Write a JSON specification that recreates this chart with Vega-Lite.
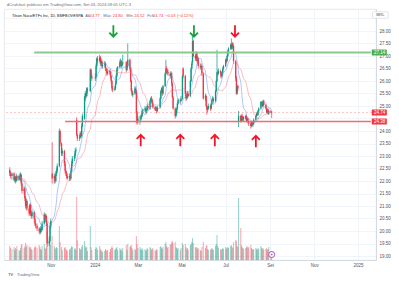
{
"$schema": "https://vega.github.io/schema/vega-lite/v6.json",
"width": 372, "height": 251,
"autosize": {"type": "none"},
"padding": {"left": 4, "top": 9, "right": 23, "bottom": 22},
"background": "#ffffff",
"config": {"font": "Liberation Sans", "view": {"stroke": "#e0e3eb", "strokeWidth": 0.8}, "axis": {"labelOverlap": false, "labelFlush": false, "labelBound": false}},
"data": {"values": [
{"d":"2023-09-05","o":22.45,"h":22.55,"l":22.2,"c":22.3,"v":14},
{"d":"2023-09-06","o":22.3,"h":22.4,"l":22.1,"c":22.2,"v":12},
{"d":"2023-09-08","o":22.2,"h":22.35,"l":22.05,"c":22.3,"v":11},
{"d":"2023-09-11","o":22.3,"h":22.35,"l":22.0,"c":22.05,"v":13},
{"d":"2023-09-12","o":22.05,"h":22.2,"l":21.95,"c":22.15,"v":10},
{"d":"2023-09-13","o":22.15,"h":22.2,"l":21.9,"c":22.0,"v":12},
{"d":"2023-09-14","o":22.0,"h":22.3,"l":21.95,"c":22.2,"v":11},
{"d":"2023-09-15","o":22.2,"h":22.25,"l":22.0,"c":22.05,"v":14},
{"d":"2023-09-18","o":22.05,"h":22.25,"l":22.0,"c":22.2,"v":10},
{"d":"2023-09-19","o":22.2,"h":22.3,"l":22.05,"c":22.1,"v":9},
{"d":"2023-09-20","o":22.1,"h":22.35,"l":22.0,"c":22.25,"v":12},
{"d":"2023-09-21","o":22.25,"h":22.3,"l":21.8,"c":21.9,"v":15},
{"d":"2023-09-22","o":21.9,"h":22.0,"l":21.5,"c":21.6,"v":16},
{"d":"2023-09-25","o":21.6,"h":21.8,"l":21.45,"c":21.7,"v":12},
{"d":"2023-09-26","o":21.7,"h":21.75,"l":21.2,"c":21.3,"v":14},
{"d":"2023-09-27","o":21.3,"h":21.4,"l":20.9,"c":21.0,"v":17},
{"d":"2023-09-28","o":21.0,"h":21.3,"l":20.85,"c":21.2,"v":13},
{"d":"2023-09-29","o":21.2,"h":21.25,"l":20.8,"c":20.9,"v":15},
{"d":"2023-10-02","o":20.9,"h":21.0,"l":20.6,"c":20.7,"v":14},
{"d":"2023-10-03","o":20.7,"h":21.1,"l":20.65,"c":21.05,"v":12},
{"d":"2023-10-04","o":21.05,"h":21.1,"l":20.6,"c":20.7,"v":13},
{"d":"2023-10-05","o":20.7,"h":20.8,"l":20.5,"c":20.6,"v":11},
{"d":"2023-10-06","o":20.6,"h":20.85,"l":20.5,"c":20.75,"v":10},
{"d":"2023-10-09","o":20.75,"h":20.8,"l":20.4,"c":20.5,"v":12},
{"d":"2023-10-10","o":20.5,"h":20.6,"l":20.2,"c":20.3,"v":14},
{"d":"2023-10-11","o":20.3,"h":20.4,"l":20.1,"c":20.2,"v":13},
{"d":"2023-10-13","o":20.2,"h":20.3,"l":20.0,"c":20.1,"v":12},
{"d":"2023-10-16","o":20.1,"h":20.15,"l":19.9,"c":20.0,"v":15},
{"d":"2023-10-17","o":20.0,"h":20.1,"l":19.85,"c":19.95,"v":13},
{"d":"2023-10-18","o":19.95,"h":20.2,"l":19.9,"c":20.1,"v":11},
{"d":"2023-10-19","o":20.1,"h":20.15,"l":19.95,"c":20.05,"v":10},
{"d":"2023-10-20","o":20.05,"h":20.4,"l":20.0,"c":20.3,"v":14},
{"d":"2023-10-23","o":20.3,"h":20.75,"l":20.25,"c":20.65,"v":16},
{"d":"2023-10-24","o":20.65,"h":20.7,"l":20.4,"c":20.5,"v":12},
{"d":"2023-10-25","o":20.5,"h":20.7,"l":20.35,"c":20.6,"v":11},
{"d":"2023-10-26","o":20.6,"h":20.65,"l":20.2,"c":20.3,"v":13},
{"d":"2023-10-27","o":20.3,"h":20.35,"l":19.37,"c":19.5,"v":28},
{"d":"2023-10-30","o":19.5,"h":19.8,"l":19.4,"c":19.6,"v":22},
{"d":"2023-10-31","o":19.6,"h":20.3,"l":19.55,"c":20.2,"v":18},
{"d":"2023-11-01","o":20.2,"h":20.5,"l":20.1,"c":20.4,"v":15},
{"d":"2023-11-03","o":22.3,"h":23.55,"l":21.9,"c":22.1,"v":24},
{"d":"2023-11-06","o":22.1,"h":22.3,"l":21.9,"c":22.2,"v":14},
{"d":"2023-11-07","o":22.2,"h":22.25,"l":21.9,"c":22.0,"v":12},
{"d":"2023-11-08","o":22.0,"h":22.4,"l":21.95,"c":22.3,"v":11},
{"d":"2023-11-09","o":22.3,"h":22.5,"l":22.2,"c":22.4,"v":13},
{"d":"2023-11-10","o":22.4,"h":22.7,"l":22.3,"c":22.6,"v":12},
{"d":"2023-11-13","o":22.6,"h":24.1,"l":22.55,"c":24.0,"v":34},
{"d":"2023-11-14","o":24.0,"h":24.05,"l":23.4,"c":23.5,"v":18},
{"d":"2023-11-16","o":23.5,"h":23.55,"l":23.0,"c":23.1,"v":13},
{"d":"2023-11-17","o":23.1,"h":23.3,"l":23.0,"c":23.2,"v":10},
{"d":"2023-11-20","o":23.2,"h":23.25,"l":22.6,"c":22.7,"v":12},
{"d":"2023-11-21","o":22.7,"h":22.8,"l":22.3,"c":22.4,"v":13},
{"d":"2023-11-22","o":22.4,"h":22.5,"l":22.2,"c":22.3,"v":11},
{"d":"2023-11-23","o":22.3,"h":22.4,"l":22.1,"c":22.2,"v":10},
{"d":"2023-11-24","o":22.2,"h":22.3,"l":22.05,"c":22.1,"v":9},
{"d":"2023-11-27","o":22.1,"h":22.3,"l":22.0,"c":22.2,"v":11},
{"d":"2023-11-28","o":22.2,"h":22.25,"l":22.0,"c":22.1,"v":10},
{"d":"2023-11-29","o":22.1,"h":22.5,"l":22.05,"c":22.4,"v":12},
{"d":"2023-11-30","o":22.4,"h":22.8,"l":22.35,"c":22.7,"v":14},
{"d":"2023-12-01","o":22.7,"h":23.0,"l":22.6,"c":22.9,"v":13},
{"d":"2023-12-04","o":22.9,"h":23.1,"l":22.8,"c":23.0,"v":11},
{"d":"2023-12-05","o":23.0,"h":23.3,"l":22.9,"c":23.2,"v":12},
{"d":"2023-12-06","o":23.2,"h":23.35,"l":23.1,"c":23.25,"v":10},
{"d":"2023-12-07","o":24.45,"h":24.55,"l":23.8,"c":23.85,"v":63},
{"d":"2023-12-08","o":23.85,"h":23.9,"l":23.6,"c":23.7,"v":20},
{"d":"2023-12-11","o":23.7,"h":23.85,"l":23.6,"c":23.75,"v":12},
{"d":"2023-12-12","o":23.75,"h":24.0,"l":23.7,"c":23.9,"v":11},
{"d":"2023-12-13","o":23.9,"h":23.95,"l":23.7,"c":23.8,"v":10},
{"d":"2023-12-14","o":23.8,"h":24.3,"l":23.75,"c":24.2,"v":13},
{"d":"2023-12-15","o":24.2,"h":24.7,"l":24.15,"c":24.6,"v":15},
{"d":"2023-12-18","o":24.5,"h":25.4,"l":24.45,"c":25.35,"v":19},
{"d":"2023-12-19","o":25.35,"h":25.6,"l":25.2,"c":25.5,"v":14},
{"d":"2023-12-20","o":25.5,"h":25.55,"l":25.3,"c":25.4,"v":12},
{"d":"2023-12-21","o":25.4,"h":25.75,"l":25.35,"c":25.7,"v":13},
{"d":"2023-12-22","o":25.7,"h":25.75,"l":25.5,"c":25.6,"v":9},
{"d":"2023-12-26","o":25.6,"h":26.5,"l":25.55,"c":26.45,"v":34},
{"d":"2023-12-27","o":26.45,"h":26.5,"l":26.1,"c":26.2,"v":13},
{"d":"2023-12-28","o":26.2,"h":26.3,"l":26.0,"c":26.1,"v":10},
{"d":"2024-01-02","o":26.1,"h":26.3,"l":26.0,"c":26.15,"v":11},
{"d":"2024-01-03","o":26.15,"h":26.7,"l":26.1,"c":26.6,"v":13},
{"d":"2024-01-04","o":26.6,"h":26.95,"l":26.5,"c":26.9,"v":12},
{"d":"2024-01-05","o":26.9,"h":27.0,"l":26.7,"c":26.8,"v":10},
{"d":"2024-01-08","o":26.8,"h":27.05,"l":26.75,"c":26.95,"v":14},
{"d":"2024-01-09","o":26.95,"h":27.0,"l":26.6,"c":26.7,"v":11},
{"d":"2024-01-10","o":26.7,"h":26.9,"l":26.6,"c":26.8,"v":9},
{"d":"2024-01-11","o":26.8,"h":26.85,"l":26.5,"c":26.6,"v":10},
{"d":"2024-01-12","o":26.6,"h":26.75,"l":26.5,"c":26.65,"v":8},
{"d":"2024-01-15","o":26.65,"h":26.8,"l":26.55,"c":26.7,"v":9},
{"d":"2024-01-16","o":26.7,"h":26.75,"l":26.4,"c":26.5,"v":11},
{"d":"2024-01-17","o":26.5,"h":26.55,"l":26.3,"c":26.4,"v":10},
{"d":"2024-01-18","o":26.4,"h":26.45,"l":26.2,"c":26.3,"v":9},
{"d":"2024-01-19","o":26.3,"h":26.5,"l":26.25,"c":26.4,"v":10},
{"d":"2024-01-22","o":26.4,"h":26.45,"l":26.25,"c":26.35,"v":8},
{"d":"2024-01-23","o":26.35,"h":26.4,"l":26.1,"c":26.2,"v":11},
{"d":"2024-01-24","o":26.2,"h":26.25,"l":25.9,"c":26.0,"v":12},
{"d":"2024-01-25","o":26.0,"h":26.05,"l":25.6,"c":25.7,"v":14},
{"d":"2024-01-26","o":25.7,"h":25.8,"l":25.55,"c":25.65,"v":12},
{"d":"2024-01-29","o":25.65,"h":25.8,"l":25.6,"c":25.7,"v":10},
{"d":"2024-01-30","o":25.7,"h":26.0,"l":25.65,"c":25.9,"v":11},
{"d":"2024-01-31","o":25.9,"h":26.3,"l":25.85,"c":26.2,"v":12},
{"d":"2024-02-01","o":26.2,"h":26.55,"l":26.15,"c":26.5,"v":13},
{"d":"2024-02-02","o":26.5,"h":26.6,"l":26.4,"c":26.55,"v":10},
{"d":"2024-02-05","o":26.55,"h":26.85,"l":26.5,"c":26.75,"v":12},
{"d":"2024-02-06","o":26.75,"h":26.9,"l":26.6,"c":26.8,"v":10},
{"d":"2024-02-07","o":26.8,"h":26.85,"l":26.5,"c":26.6,"v":11},
{"d":"2024-02-08","o":26.6,"h":26.75,"l":26.55,"c":26.7,"v":9},
{"d":"2024-02-09","o":26.7,"h":27.05,"l":26.65,"c":26.75,"v":12},
{"d":"2024-02-14","o":26.75,"h":26.8,"l":26.35,"c":26.45,"v":15},
{"d":"2024-02-15","o":26.45,"h":26.65,"l":26.4,"c":26.6,"v":10},
{"d":"2024-02-16","o":26.6,"h":27.5,"l":26.55,"c":26.85,"v":16},
{"d":"2024-02-19","o":26.85,"h":26.9,"l":26.4,"c":26.5,"v":13},
{"d":"2024-02-20","o":26.5,"h":26.55,"l":25.95,"c":26.0,"v":14},
{"d":"2024-02-21","o":26.0,"h":26.05,"l":25.55,"c":25.6,"v":15},
{"d":"2024-02-22","o":25.6,"h":25.7,"l":25.4,"c":25.45,"v":12},
{"d":"2024-02-23","o":25.45,"h":25.6,"l":25.35,"c":25.5,"v":10},
{"d":"2024-02-26","o":25.5,"h":25.8,"l":25.45,"c":25.7,"v":11},
{"d":"2024-02-27","o":25.7,"h":25.75,"l":25.5,"c":25.6,"v":10},
{"d":"2024-02-28","o":25.6,"h":25.65,"l":24.3,"c":24.75,"v":24},
{"d":"2024-02-29","o":24.75,"h":24.8,"l":24.25,"c":24.4,"v":16},
{"d":"2024-03-01","o":24.4,"h":24.6,"l":24.3,"c":24.5,"v":12},
{"d":"2024-03-04","o":24.5,"h":24.6,"l":24.25,"c":24.5,"v":13},
{"d":"2024-03-05","o":24.5,"h":24.65,"l":24.4,"c":24.55,"v":11},
{"d":"2024-03-06","o":24.55,"h":24.7,"l":24.45,"c":24.6,"v":10},
{"d":"2024-03-07","o":24.6,"h":24.85,"l":24.55,"c":24.8,"v":12},
{"d":"2024-03-08","o":24.8,"h":24.9,"l":24.7,"c":24.85,"v":10},
{"d":"2024-03-11","o":24.85,"h":25.0,"l":24.75,"c":24.9,"v":11},
{"d":"2024-03-12","o":24.9,"h":24.95,"l":24.7,"c":24.8,"v":9},
{"d":"2024-03-13","o":24.8,"h":24.9,"l":24.7,"c":24.85,"v":10},
{"d":"2024-03-14","o":24.85,"h":25.1,"l":24.8,"c":25.0,"v":12},
{"d":"2024-03-15","o":25.0,"h":25.05,"l":24.85,"c":24.9,"v":11},
{"d":"2024-03-18","o":24.9,"h":25.25,"l":24.85,"c":25.2,"v":13},
{"d":"2024-03-19","o":25.2,"h":25.35,"l":25.1,"c":25.3,"v":12},
{"d":"2024-03-20","o":25.3,"h":25.4,"l":25.15,"c":25.25,"v":10},
{"d":"2024-03-21","o":25.25,"h":25.3,"l":25.0,"c":25.1,"v":11},
{"d":"2024-03-22","o":25.1,"h":25.15,"l":24.9,"c":24.95,"v":12},
{"d":"2024-03-25","o":24.95,"h":25.0,"l":24.8,"c":24.85,"v":10},
{"d":"2024-03-26","o":24.85,"h":25.0,"l":24.8,"c":24.9,"v":9},
{"d":"2024-03-27","o":24.9,"h":24.95,"l":24.7,"c":24.8,"v":11},
{"d":"2024-03-28","o":24.8,"h":25.0,"l":24.75,"c":24.95,"v":10},
{"d":"2024-04-01","o":24.95,"h":25.35,"l":24.9,"c":25.3,"v":13},
{"d":"2024-04-02","o":25.3,"h":25.65,"l":25.25,"c":25.6,"v":14},
{"d":"2024-04-03","o":25.6,"h":25.75,"l":25.5,"c":25.7,"v":12},
{"d":"2024-04-04","o":25.7,"h":25.75,"l":25.4,"c":25.5,"v":11},
{"d":"2024-04-05","o":25.5,"h":25.85,"l":25.45,"c":25.8,"v":13},
{"d":"2024-04-08","o":25.8,"h":26.35,"l":25.75,"c":26.3,"v":16},
{"d":"2024-04-09","o":26.3,"h":26.85,"l":26.25,"c":26.5,"v":18},
{"d":"2024-04-10","o":26.5,"h":26.6,"l":26.3,"c":26.4,"v":14},
{"d":"2024-04-11","o":26.4,"h":26.5,"l":26.25,"c":26.35,"v":12},
{"d":"2024-04-12","o":26.35,"h":26.45,"l":26.2,"c":26.3,"v":13},
{"d":"2024-04-15","o":26.3,"h":26.35,"l":26.1,"c":26.2,"v":16},
{"d":"2024-04-16","o":26.2,"h":26.4,"l":26.15,"c":26.3,"v":15},
{"d":"2024-04-17","o":26.3,"h":26.35,"l":25.8,"c":25.9,"v":18},
{"d":"2024-04-18","o":25.9,"h":25.95,"l":25.3,"c":25.35,"v":19},
{"d":"2024-04-19","o":25.35,"h":25.4,"l":24.85,"c":24.9,"v":17},
{"d":"2024-04-22","o":24.9,"h":24.95,"l":24.5,"c":24.6,"v":18},
{"d":"2024-04-23","o":24.6,"h":24.8,"l":24.55,"c":24.7,"v":13},
{"d":"2024-04-24","o":24.7,"h":24.95,"l":24.65,"c":24.9,"v":12},
{"d":"2024-04-25","o":24.9,"h":25.15,"l":24.85,"c":25.1,"v":11},
{"d":"2024-04-26","o":25.1,"h":25.3,"l":25.05,"c":25.25,"v":12},
{"d":"2024-04-29","o":25.25,"h":25.3,"l":25.1,"c":25.2,"v":10},
{"d":"2024-04-30","o":25.2,"h":25.4,"l":25.15,"c":25.3,"v":12},
{"d":"2024-05-02","o":25.3,"h":26.25,"l":25.25,"c":26.2,"v":17},
{"d":"2024-05-03","o":26.5,"h":26.55,"l":26.1,"c":26.2,"v":15},
{"d":"2024-05-06","o":26.2,"h":26.25,"l":25.4,"c":25.5,"v":16},
{"d":"2024-05-07","o":25.5,"h":25.55,"l":25.2,"c":25.3,"v":13},
{"d":"2024-05-08","o":25.3,"h":25.45,"l":25.25,"c":25.35,"v":11},
{"d":"2024-05-09","o":25.35,"h":25.6,"l":25.3,"c":25.5,"v":12},
{"d":"2024-05-10","o":25.5,"h":25.55,"l":25.35,"c":25.4,"v":10},
{"d":"2024-05-13","o":25.4,"h":26.05,"l":25.35,"c":26.0,"v":15},
{"d":"2024-05-14","o":26.0,"h":26.55,"l":25.95,"c":26.5,"v":16},
{"d":"2024-05-15","o":26.5,"h":26.8,"l":26.45,"c":26.7,"v":18},
{"d":"2024-05-16","o":26.75,"h":27.85,"l":26.65,"c":27.6,"v":22},
{"d":"2024-05-17","o":27.6,"h":27.65,"l":26.95,"c":27.0,"v":17},
{"d":"2024-05-20","o":27.0,"h":27.05,"l":26.8,"c":26.9,"v":13},
{"d":"2024-05-21","o":26.9,"h":27.2,"l":26.85,"c":27.1,"v":12},
{"d":"2024-05-22","o":27.1,"h":27.15,"l":26.75,"c":26.8,"v":13},
{"d":"2024-05-23","o":26.8,"h":27.0,"l":26.7,"c":26.9,"v":11},
{"d":"2024-05-24","o":26.9,"h":26.95,"l":26.5,"c":26.6,"v":12},
{"d":"2024-05-27","o":26.6,"h":26.7,"l":26.45,"c":26.55,"v":10},
{"d":"2024-05-28","o":26.55,"h":26.7,"l":26.5,"c":26.6,"v":9},
{"d":"2024-05-29","o":26.6,"h":26.65,"l":26.2,"c":26.3,"v":13},
{"d":"2024-05-31","o":26.3,"h":26.35,"l":25.25,"c":25.3,"v":18},
{"d":"2024-06-03","o":25.3,"h":25.5,"l":25.2,"c":25.4,"v":12},
{"d":"2024-06-04","o":25.4,"h":25.45,"l":24.95,"c":25.0,"v":14},
{"d":"2024-06-05","o":25.0,"h":25.05,"l":24.65,"c":24.85,"v":15},
{"d":"2024-06-06","o":24.85,"h":25.0,"l":24.75,"c":24.9,"v":11},
{"d":"2024-06-07","o":24.9,"h":25.1,"l":24.85,"c":25.0,"v":10},
{"d":"2024-06-10","o":25.0,"h":25.05,"l":24.8,"c":24.9,"v":10},
{"d":"2024-06-11","o":24.9,"h":25.15,"l":24.85,"c":25.1,"v":11},
{"d":"2024-06-12","o":25.1,"h":25.3,"l":25.05,"c":25.25,"v":12},
{"d":"2024-06-13","o":25.25,"h":25.4,"l":25.2,"c":25.3,"v":11},
{"d":"2024-06-14","o":25.3,"h":25.35,"l":25.1,"c":25.2,"v":10},
{"d":"2024-06-17","o":25.2,"h":25.65,"l":25.15,"c":25.6,"v":14},
{"d":"2024-06-18","o":25.6,"h":26.05,"l":25.55,"c":26.0,"v":16},
{"d":"2024-06-19","o":26.0,"h":27.25,"l":25.95,"c":26.35,"v":25},
{"d":"2024-06-20","o":26.35,"h":26.45,"l":26.2,"c":26.3,"v":14},
{"d":"2024-06-21","o":26.3,"h":26.5,"l":26.25,"c":26.4,"v":12},
{"d":"2024-06-24","o":26.4,"h":26.45,"l":26.15,"c":26.3,"v":11},
{"d":"2024-06-25","o":26.3,"h":26.35,"l":26.1,"c":26.2,"v":10},
{"d":"2024-06-26","o":26.2,"h":26.4,"l":26.15,"c":26.35,"v":11},
{"d":"2024-06-27","o":26.35,"h":26.55,"l":26.3,"c":26.5,"v":12},
{"d":"2024-06-28","o":26.5,"h":26.65,"l":26.45,"c":26.6,"v":11},
{"d":"2024-07-01","o":26.6,"h":26.9,"l":26.55,"c":26.85,"v":13},
{"d":"2024-07-02","o":26.85,"h":26.9,"l":26.7,"c":26.8,"v":11},
{"d":"2024-07-03","o":26.8,"h":27.05,"l":26.75,"c":27.0,"v":12},
{"d":"2024-07-04","o":27.0,"h":27.25,"l":26.95,"c":27.2,"v":13},
{"d":"2024-07-05","o":27.2,"h":27.35,"l":27.1,"c":27.3,"v":12},
{"d":"2024-07-08","o":27.3,"h":27.5,"l":27.25,"c":27.45,"v":14},
{"d":"2024-07-09","o":27.45,"h":27.7,"l":27.25,"c":27.3,"v":15},
{"d":"2024-07-10","o":27.3,"h":27.55,"l":27.25,"c":27.5,"v":13},
{"d":"2024-07-11","o":27.5,"h":27.55,"l":27.3,"c":27.4,"v":12},
{"d":"2024-07-12","o":27.4,"h":27.45,"l":26.7,"c":26.8,"v":18},
{"d":"2024-07-15","o":26.8,"h":26.85,"l":26.0,"c":26.1,"v":20},
{"d":"2024-07-16","o":26.1,"h":26.2,"l":25.45,"c":25.5,"v":19},
{"d":"2024-07-17","o":25.5,"h":25.85,"l":25.45,"c":25.8,"v":14},
{"d":"2024-07-18","o":25.8,"h":25.85,"l":25.6,"c":25.7,"v":13},
{"d":"2024-07-19","o":24.4,"h":24.8,"l":24.15,"c":24.6,"v":62},
{"d":"2024-07-22","o":24.6,"h":24.65,"l":24.35,"c":24.4,"v":32},
{"d":"2024-07-23","o":24.4,"h":24.65,"l":24.35,"c":24.6,"v":15},
{"d":"2024-07-24","o":24.6,"h":24.7,"l":24.4,"c":24.45,"v":13},
{"d":"2024-07-25","o":24.45,"h":24.6,"l":24.4,"c":24.55,"v":12},
{"d":"2024-07-26","o":24.55,"h":24.6,"l":24.4,"c":24.5,"v":11},
{"d":"2024-07-29","o":24.5,"h":24.65,"l":24.45,"c":24.6,"v":12},
{"d":"2024-07-30","o":24.6,"h":24.65,"l":24.35,"c":24.4,"v":13},
{"d":"2024-07-31","o":24.4,"h":24.55,"l":24.35,"c":24.5,"v":14},
{"d":"2024-08-01","o":24.5,"h":24.55,"l":24.3,"c":24.35,"v":12},
{"d":"2024-08-02","o":24.35,"h":24.4,"l":24.2,"c":24.3,"v":13},
{"d":"2024-08-05","o":24.3,"h":24.35,"l":24.1,"c":24.2,"v":15},
{"d":"2024-08-06","o":24.2,"h":24.4,"l":24.15,"c":24.35,"v":12},
{"d":"2024-08-07","o":24.35,"h":24.4,"l":24.2,"c":24.25,"v":11},
{"d":"2024-08-08","o":24.25,"h":24.35,"l":24.15,"c":24.3,"v":10},
{"d":"2024-08-09","o":24.3,"h":24.5,"l":24.25,"c":24.45,"v":11},
{"d":"2024-08-12","o":24.45,"h":24.65,"l":24.4,"c":24.6,"v":12},
{"d":"2024-08-13","o":24.6,"h":24.75,"l":24.55,"c":24.7,"v":11},
{"d":"2024-08-14","o":24.7,"h":24.75,"l":24.6,"c":24.65,"v":10},
{"d":"2024-08-15","o":24.65,"h":24.85,"l":24.6,"c":24.8,"v":12},
{"d":"2024-08-16","o":24.8,"h":24.95,"l":24.75,"c":24.9,"v":11},
{"d":"2024-08-19","o":24.9,"h":25.2,"l":24.85,"c":25.15,"v":14},
{"d":"2024-08-20","o":25.15,"h":25.2,"l":25.0,"c":25.1,"v":12},
{"d":"2024-08-21","o":25.1,"h":25.15,"l":24.95,"c":25.0,"v":11},
{"d":"2024-08-22","o":25.0,"h":25.25,"l":24.95,"c":25.2,"v":12},
{"d":"2024-08-23","o":25.2,"h":25.25,"l":25.0,"c":25.05,"v":10},
{"d":"2024-08-26","o":25.05,"h":25.1,"l":24.85,"c":24.9,"v":11},
{"d":"2024-08-27","o":24.9,"h":24.95,"l":24.7,"c":24.75,"v":12},
{"d":"2024-08-28","o":24.75,"h":24.9,"l":24.7,"c":24.85,"v":10},
{"d":"2024-08-29","o":24.85,"h":24.9,"l":24.65,"c":24.7,"v":11},
{"d":"2024-08-30","o":24.7,"h":24.85,"l":24.65,"c":24.8,"v":13},
{"d":"2024-09-02","o":24.8,"h":24.85,"l":24.7,"c":24.77,"v":9},
{"d":"2024-09-03","o":24.77,"h":24.8,"l":24.52,"c":24.74,"v":6}
]},
"layer": [
 {"mark": {"type": "bar", "size": 1.1, "opacity": 0.4, "clip": true},
  "encoding": {
   "x": {"field": "d", "type": "temporal", "scale": {"domain": [{"year": 2023, "month": 9, "date": 4, "utc": true}, {"year": 2025, "month": 1, "date": 19, "utc": true}]},
         "axis": {"title": null, "values": [{"year": 2023, "month": 11, "date": 1, "utc": true}, {"year": 2024, "month": 1, "date": 1, "utc": true}, {"year": 2024, "month": 3, "date": 1, "utc": true}, {"year": 2024, "month": 5, "date": 1, "utc": true}, {"year": 2024, "month": 7, "date": 1, "utc": true}, {"year": 2024, "month": 9, "date": 1, "utc": true}, {"year": 2024, "month": 11, "date": 1, "utc": true}, {"year": 2025, "month": 1, "date": 1, "utc": true}], "labelExpr": "utcmonth(datum.value) == 0 ? utcyear(datum.value) + '' : ['Jan','Fev','Mar','Abr','Mai','Jun','Jul','Ago','Set','Out','Nov','Dez'][utcmonth(datum.value)]", "labelFontSize": 4.5, "labelColor": "#50535e", "labelPadding": 2, "ticks": false, "domainColor": "#d1d4dc", "domainWidth": 0.8, "grid": true, "gridColor": "#eef1f6", "gridWidth": 0.8, "labelFlush": false, "labelOverlap": false}},
   "y": {"field": "v", "type": "quantitative", "scale": {"domain": [0, 251]}, "axis": null},
   "color": {"condition": {"test": "datum.c >= datum.o", "value": "#089981"}, "value": "#f23645"}
  }},
 {"layer": [
  {"mark": {"type": "rule", "strokeWidth": 0.7, "clip": true},
   "encoding": {
    "x": {"field": "d", "type": "temporal", "scale": {"domain": [{"year": 2023, "month": 9, "date": 4, "utc": true}, {"year": 2025, "month": 1, "date": 19, "utc": true}]},
          "axis": {"title": null, "values": [{"year": 2023, "month": 11, "date": 1, "utc": true}, {"year": 2024, "month": 1, "date": 1, "utc": true}, {"year": 2024, "month": 3, "date": 1, "utc": true}, {"year": 2024, "month": 5, "date": 1, "utc": true}, {"year": 2024, "month": 7, "date": 1, "utc": true}, {"year": 2024, "month": 9, "date": 1, "utc": true}, {"year": 2024, "month": 11, "date": 1, "utc": true}, {"year": 2025, "month": 1, "date": 1, "utc": true}], "labelExpr": "utcmonth(datum.value) == 0 ? utcyear(datum.value) + '' : ['Jan','Fev','Mar','Abr','Mai','Jun','Jul','Ago','Set','Out','Nov','Dez'][utcmonth(datum.value)]", "labelFontSize": 4.5, "labelColor": "#50535e", "labelPadding": 2, "ticks": false, "domainColor": "#d1d4dc", "domainWidth": 0.8, "grid": true, "gridColor": "#eef1f6", "gridWidth": 0.8, "labelFlush": false, "labelOverlap": false}},
    "y": {"field": "l", "type": "quantitative", "scale": {"domain": [18.84, 28.88], "nice": false, "zero": false},
          "axis": {"orient": "right", "title": null, "values": [19, 19.5, 20, 20.5, 21, 21.5, 22, 22.5, 23, 23.5, 24, 24.5, 25, 25.5, 26, 26.5, 27, 27.5, 28, 28.5], "labelExpr": "(datum.value > 28.2 || datum.value == 24.5) ? '' : format(datum.value, '.2f')", "labelFontSize": 4.5, "labelColor": "#50535e", "labelAlign": "left", "labelPadding": 3, "ticks": false, "domainColor": "#d1d4dc", "domainWidth": 0.8, "grid": true, "gridColor": "#eef1f6", "gridWidth": 0.8, "labelOverlap": false, "labelFlush": false}},
    "y2": {"field": "h"},
    "color": {"condition": {"test": "datum.c >= datum.o", "value": "#089981"}, "value": "#f23645"}
   }},
  {"mark": {"type": "bar", "size": 1.3, "clip": true},
   "encoding": {
    "x": {"field": "d", "type": "temporal"},
    "y": {"field": "o", "type": "quantitative", "axis": {"orient": "right", "title": null, "values": [19, 19.5, 20, 20.5, 21, 21.5, 22, 22.5, 23, 23.5, 24, 24.5, 25, 25.5, 26, 26.5, 27, 27.5, 28, 28.5], "labelExpr": "(datum.value > 28.2 || datum.value == 24.5) ? '' : format(datum.value, '.2f')", "labelFontSize": 4.5, "labelColor": "#50535e", "labelAlign": "left", "labelPadding": 3, "ticks": false, "domainColor": "#d1d4dc", "domainWidth": 0.8, "grid": true, "gridColor": "#eef1f6", "gridWidth": 0.8, "labelOverlap": false, "labelFlush": false}},
    "y2": {"field": "c"},
    "color": {"condition": {"test": "datum.c >= datum.o", "value": "#089981"}, "value": "#f23645"}
   }},
  {"transform": [{"window": [{"op": "mean", "field": "c", "as": "ma9"}], "frame": [-8, 0], "sort": [{"field": "d"}]}],
   "mark": {"type": "line", "strokeWidth": 0.8, "color": "#5b8def", "opacity": 0.6, "clip": true},
   "encoding": {
    "x": {"field": "d", "type": "temporal"},
    "y": {"field": "ma9", "type": "quantitative", "axis": {"orient": "right", "title": null, "values": [19, 19.5, 20, 20.5, 21, 21.5, 22, 22.5, 23, 23.5, 24, 24.5, 25, 25.5, 26, 26.5, 27, 27.5, 28, 28.5], "labelExpr": "(datum.value > 28.2 || datum.value == 24.5) ? '' : format(datum.value, '.2f')", "labelFontSize": 4.5, "labelColor": "#50535e", "labelAlign": "left", "labelPadding": 3, "ticks": false, "domainColor": "#d1d4dc", "domainWidth": 0.8, "grid": true, "gridColor": "#eef1f6", "gridWidth": 0.8, "labelOverlap": false, "labelFlush": false}}
   }},
  {"transform": [{"window": [{"op": "mean", "field": "c", "as": "ma20"}], "frame": [-19, 0], "sort": [{"field": "d"}]}],
   "mark": {"type": "line", "strokeWidth": 0.8, "color": "#f06070", "opacity": 0.5, "clip": true},
   "encoding": {
    "x": {"field": "d", "type": "temporal"},
    "y": {"field": "ma20", "type": "quantitative", "axis": {"orient": "right", "title": null, "values": [19, 19.5, 20, 20.5, 21, 21.5, 22, 22.5, 23, 23.5, 24, 24.5, 25, 25.5, 26, 26.5, 27, 27.5, 28, 28.5], "labelExpr": "(datum.value > 28.2 || datum.value == 24.5) ? '' : format(datum.value, '.2f')", "labelFontSize": 4.5, "labelColor": "#50535e", "labelAlign": "left", "labelPadding": 3, "ticks": false, "domainColor": "#d1d4dc", "domainWidth": 0.8, "grid": true, "gridColor": "#eef1f6", "gridWidth": 0.8, "labelOverlap": false, "labelFlush": false}}
   }},
  {"data": {"values": [{"p": 24.74}]},
   "mark": {"type": "rule", "strokeWidth": 0.6, "strokeDash": [2, 2], "color": "#f23645", "opacity": 0.45},
   "encoding": {
    "y": {"field": "p", "type": "quantitative", "axis": {"orient": "right", "title": null, "values": [19, 19.5, 20, 20.5, 21, 21.5, 22, 22.5, 23, 23.5, 24, 24.5, 25, 25.5, 26, 26.5, 27, 27.5, 28, 28.5], "labelExpr": "(datum.value > 28.2 || datum.value == 24.5) ? '' : format(datum.value, '.2f')", "labelFontSize": 4.5, "labelColor": "#50535e", "labelAlign": "left", "labelPadding": 3, "ticks": false, "domainColor": "#d1d4dc", "domainWidth": 0.8, "grid": true, "gridColor": "#eef1f6", "gridWidth": 0.8, "labelOverlap": false, "labelFlush": false}}
   }},
  {"data": {"values": [{"d0": "2023-10-09", "d1": "2025-01-19", "p": 27.14}]},
   "mark": {"type": "rule", "strokeWidth": 2, "color": "#8cc98e"},
   "encoding": {
    "x": {"field": "d0", "type": "temporal"},
    "x2": {"field": "d1"},
    "y": {"field": "p", "type": "quantitative", "axis": {"orient": "right", "title": null, "values": [19, 19.5, 20, 20.5, 21, 21.5, 22, 22.5, 23, 23.5, 24, 24.5, 25, 25.5, 26, 26.5, 27, 27.5, 28, 28.5], "labelExpr": "(datum.value > 28.2 || datum.value == 24.5) ? '' : format(datum.value, '.2f')", "labelFontSize": 4.5, "labelColor": "#50535e", "labelAlign": "left", "labelPadding": 3, "ticks": false, "domainColor": "#d1d4dc", "domainWidth": 0.8, "grid": true, "gridColor": "#eef1f6", "gridWidth": 0.8, "labelOverlap": false, "labelFlush": false}}
   }},
  {"data": {"values": [{"d0": "2023-11-21", "d1": "2025-01-19", "p": 24.38}]},
   "mark": {"type": "rule", "strokeWidth": 1.3, "color": "#f06b72"},
   "encoding": {
    "x": {"field": "d0", "type": "temporal"},
    "x2": {"field": "d1"},
    "y": {"field": "p", "type": "quantitative", "axis": {"orient": "right", "title": null, "values": [19, 19.5, 20, 20.5, 21, 21.5, 22, 22.5, 23, 23.5, 24, 24.5, 25, 25.5, 26, 26.5, 27, 27.5, 28, 28.5], "labelExpr": "(datum.value > 28.2 || datum.value == 24.5) ? '' : format(datum.value, '.2f')", "labelFontSize": 4.5, "labelColor": "#50535e", "labelAlign": "left", "labelPadding": 3, "ticks": false, "domainColor": "#d1d4dc", "domainWidth": 0.8, "grid": true, "gridColor": "#eef1f6", "gridWidth": 0.8, "labelOverlap": false, "labelFlush": false}}
   }},
  {"data": {"values": [{"d": "2024-01-27", "p": 28.0}, {"d": "2024-05-18", "p": 28.0}]},
   "mark": {"type": "point", "shape": "M0,-1L0,1M-0.7,0.3L0,1L0.7,0.3", "filled": false, "strokeWidth": 1.8, "size": 130, "color": "#1b9e3e", "opacity": 1, "clip": false},
   "encoding": {
    "x": {"field": "d", "type": "temporal"},
    "y": {"field": "p", "type": "quantitative", "axis": {"orient": "right", "title": null, "values": [19, 19.5, 20, 20.5, 21, 21.5, 22, 22.5, 23, 23.5, 24, 24.5, 25, 25.5, 26, 26.5, 27, 27.5, 28, 28.5], "labelExpr": "(datum.value > 28.2 || datum.value == 24.5) ? '' : format(datum.value, '.2f')", "labelFontSize": 4.5, "labelColor": "#50535e", "labelAlign": "left", "labelPadding": 3, "ticks": false, "domainColor": "#d1d4dc", "domainWidth": 0.8, "grid": true, "gridColor": "#eef1f6", "gridWidth": 0.8, "labelOverlap": false, "labelFlush": false}}
   }},
  {"data": {"values": [{"d": "2024-07-14", "p": 28.0}]},
   "mark": {"type": "point", "shape": "M0,-1L0,1M-0.7,0.3L0,1L0.7,0.3", "filled": false, "strokeWidth": 1.8, "size": 130, "color": "#f2162a", "opacity": 1, "clip": false},
   "encoding": {
    "x": {"field": "d", "type": "temporal"},
    "y": {"field": "p", "type": "quantitative", "axis": {"orient": "right", "title": null, "values": [19, 19.5, 20, 20.5, 21, 21.5, 22, 22.5, 23, 23.5, 24, 24.5, 25, 25.5, 26, 26.5, 27, 27.5, 28, 28.5], "labelExpr": "(datum.value > 28.2 || datum.value == 24.5) ? '' : format(datum.value, '.2f')", "labelFontSize": 4.5, "labelColor": "#50535e", "labelAlign": "left", "labelPadding": 3, "ticks": false, "domainColor": "#d1d4dc", "domainWidth": 0.8, "grid": true, "gridColor": "#eef1f6", "gridWidth": 0.8, "labelOverlap": false, "labelFlush": false}}
   }},
  {"data": {"values": [{"d": "2024-03-05", "p": 23.62}, {"d": "2024-04-29", "p": 23.62}, {"d": "2024-06-16", "p": 23.62}, {"d": "2024-08-12", "p": 23.58}]},
   "mark": {"type": "point", "shape": "M0,1L0,-1M-0.7,-0.3L0,-1L0.7,-0.3", "filled": false, "strokeWidth": 1.8, "size": 130, "color": "#f2162a", "opacity": 1, "clip": false},
   "encoding": {
    "x": {"field": "d", "type": "temporal"},
    "y": {"field": "p", "type": "quantitative", "axis": {"orient": "right", "title": null, "values": [19, 19.5, 20, 20.5, 21, 21.5, 22, 22.5, 23, 23.5, 24, 24.5, 25, 25.5, 26, 26.5, 27, 27.5, 28, 28.5], "labelExpr": "(datum.value > 28.2 || datum.value == 24.5) ? '' : format(datum.value, '.2f')", "labelFontSize": 4.5, "labelColor": "#50535e", "labelAlign": "left", "labelPadding": 3, "ticks": false, "domainColor": "#d1d4dc", "domainWidth": 0.8, "grid": true, "gridColor": "#eef1f6", "gridWidth": 0.8, "labelOverlap": false, "labelFlush": false}}
   }},
  {"data": {"values": [{"d0": "2025-01-20", "d1": "2025-02-10", "p0": 27.02, "p1": 27.26}]},
   "mark": {"type": "rect", "color": "#4caf50", "clip": false, "cornerRadius": 0.5},
   "encoding": {
    "x": {"field": "d0", "type": "temporal"},
    "x2": {"field": "d1"},
    "y": {"field": "p0", "type": "quantitative", "axis": {"orient": "right", "title": null, "values": [19, 19.5, 20, 20.5, 21, 21.5, 22, 22.5, 23, 23.5, 24, 24.5, 25, 25.5, 26, 26.5, 27, 27.5, 28, 28.5], "labelExpr": "(datum.value > 28.2 || datum.value == 24.5) ? '' : format(datum.value, '.2f')", "labelFontSize": 4.5, "labelColor": "#50535e", "labelAlign": "left", "labelPadding": 3, "ticks": false, "domainColor": "#d1d4dc", "domainWidth": 0.8, "grid": true, "gridColor": "#eef1f6", "gridWidth": 0.8, "labelOverlap": false, "labelFlush": false}},
    "y2": {"field": "p1"}
   }},
  {"data": {"values": [{"d0": "2025-01-20", "d1": "2025-02-10", "p0": 24.62, "p1": 24.86}, {"d0": "2025-01-20", "d1": "2025-02-10", "p0": 24.26, "p1": 24.5}]},
   "mark": {"type": "rect", "color": "#f23645", "clip": false, "cornerRadius": 0.5},
   "encoding": {
    "x": {"field": "d0", "type": "temporal"},
    "x2": {"field": "d1"},
    "y": {"field": "p0", "type": "quantitative", "axis": {"orient": "right", "title": null, "values": [19, 19.5, 20, 20.5, 21, 21.5, 22, 22.5, 23, 23.5, 24, 24.5, 25, 25.5, 26, 26.5, 27, 27.5, 28, 28.5], "labelExpr": "(datum.value > 28.2 || datum.value == 24.5) ? '' : format(datum.value, '.2f')", "labelFontSize": 4.5, "labelColor": "#50535e", "labelAlign": "left", "labelPadding": 3, "ticks": false, "domainColor": "#d1d4dc", "domainWidth": 0.8, "grid": true, "gridColor": "#eef1f6", "gridWidth": 0.8, "labelOverlap": false, "labelFlush": false}},
    "y2": {"field": "p1"}
   }},
  {"data": {"values": [{"d": "2025-01-31", "p": 27.14, "t": "27.14"}, {"d": "2025-01-31", "p": 24.74, "t": "24.74"}, {"d": "2025-01-31", "p": 24.38, "t": "24.38"}]},
   "mark": {"type": "text", "fontSize": 4.5, "color": "#ffffff", "align": "center", "baseline": "middle", "clip": false},
   "encoding": {
    "x": {"field": "d", "type": "temporal"},
    "y": {"field": "p", "type": "quantitative", "axis": {"orient": "right", "title": null, "values": [19, 19.5, 20, 20.5, 21, 21.5, 22, 22.5, 23, 23.5, 24, 24.5, 25, 25.5, 26, 26.5, 27, 27.5, 28, 28.5], "labelExpr": "(datum.value > 28.2 || datum.value == 24.5) ? '' : format(datum.value, '.2f')", "labelFontSize": 4.5, "labelColor": "#50535e", "labelAlign": "left", "labelPadding": 3, "ticks": false, "domainColor": "#d1d4dc", "domainWidth": 0.8, "grid": true, "gridColor": "#eef1f6", "gridWidth": 0.8, "labelOverlap": false, "labelFlush": false}},
    "text": {"field": "t"}
   }},
  {"data": {"values": [{"d0": "2025-01-21", "d1": "2025-02-12", "p0": 28.51, "p1": 28.77}]},
   "mark": {"type": "rect", "fill": "#ffffff", "stroke": "#d1d4dc", "strokeWidth": 0.6, "clip": false, "cornerRadius": 1},
   "encoding": {
    "x": {"field": "d0", "type": "temporal"},
    "x2": {"field": "d1"},
    "y": {"field": "p0", "type": "quantitative", "axis": {"orient": "right", "title": null, "values": [19, 19.5, 20, 20.5, 21, 21.5, 22, 22.5, 23, 23.5, 24, 24.5, 25, 25.5, 26, 26.5, 27, 27.5, 28, 28.5], "labelExpr": "(datum.value > 28.2 || datum.value == 24.5) ? '' : format(datum.value, '.2f')", "labelFontSize": 4.5, "labelColor": "#50535e", "labelAlign": "left", "labelPadding": 3, "ticks": false, "domainColor": "#d1d4dc", "domainWidth": 0.8, "grid": true, "gridColor": "#eef1f6", "gridWidth": 0.8, "labelOverlap": false, "labelFlush": false}},
    "y2": {"field": "p1"}
   }},
  {"data": {"values": [{"d": "2025-02-01", "p": 28.64, "t": "BRL"}]},
   "mark": {"type": "text", "fontSize": 4.3, "color": "#50535e", "align": "center", "baseline": "middle", "clip": false},
   "encoding": {
    "x": {"field": "d", "type": "temporal"},
    "y": {"field": "p", "type": "quantitative", "axis": {"orient": "right", "title": null, "values": [19, 19.5, 20, 20.5, 21, 21.5, 22, 22.5, 23, 23.5, 24, 24.5, 25, 25.5, 26, 26.5, 27, 27.5, 28, 28.5], "labelExpr": "(datum.value > 28.2 || datum.value == 24.5) ? '' : format(datum.value, '.2f')", "labelFontSize": 4.5, "labelColor": "#50535e", "labelAlign": "left", "labelPadding": 3, "ticks": false, "domainColor": "#d1d4dc", "domainWidth": 0.8, "grid": true, "gridColor": "#eef1f6", "gridWidth": 0.8, "labelOverlap": false, "labelFlush": false}},
    "text": {"field": "t"}
   }},
  {"data": {"values": [{"d": "2023-09-01", "p": 29.06, "t": "dCrafsfast publicou em TradingView.com, Set 03, 2024 09:05 UTC-3"}, {"d": "2023-12-19", "p": 28.62, "t": "Ab"}, {"d": "2024-01-13", "p": 28.62, "t": "Máx"}, {"d": "2024-02-14", "p": 28.62, "t": "Mín"}, {"d": "2024-03-14", "p": 28.62, "t": "Fch"}, {"d": "2023-09-15", "p": 18.24, "t": "TradingView"}]},
   "mark": {"type": "text", "fontSize": 4.1, "color": "#6a6d78", "align": "left", "baseline": "middle", "clip": false},
   "encoding": {
    "x": {"field": "d", "type": "temporal"},
    "y": {"field": "p", "type": "quantitative", "axis": {"orient": "right", "title": null, "values": [19, 19.5, 20, 20.5, 21, 21.5, 22, 22.5, 23, 23.5, 24, 24.5, 25, 25.5, 26, 26.5, 27, 27.5, 28, 28.5], "labelExpr": "(datum.value > 28.2 || datum.value == 24.5) ? '' : format(datum.value, '.2f')", "labelFontSize": 4.5, "labelColor": "#50535e", "labelAlign": "left", "labelPadding": 3, "ticks": false, "domainColor": "#d1d4dc", "domainWidth": 0.8, "grid": true, "gridColor": "#eef1f6", "gridWidth": 0.8, "labelOverlap": false, "labelFlush": false}},
    "text": {"field": "t"}
   }},
  {"data": {"values": [{"d": "2023-09-08", "p": 28.62, "t": "Tilson Nuco/ETFs Inc, 1D, BMFBOVESPA"}, {"d": "2023-09-03", "p": 18.24, "t": "TV"}]},
   "mark": {"type": "text", "fontSize": 3.8, "color": "#131722", "align": "left", "baseline": "middle", "clip": false},
   "encoding": {
    "x": {"field": "d", "type": "temporal"},
    "y": {"field": "p", "type": "quantitative", "axis": {"orient": "right", "title": null, "values": [19, 19.5, 20, 20.5, 21, 21.5, 22, 22.5, 23, 23.5, 24, 24.5, 25, 25.5, 26, 26.5, 27, 27.5, 28, 28.5], "labelExpr": "(datum.value > 28.2 || datum.value == 24.5) ? '' : format(datum.value, '.2f')", "labelFontSize": 4.5, "labelColor": "#50535e", "labelAlign": "left", "labelPadding": 3, "ticks": false, "domainColor": "#d1d4dc", "domainWidth": 0.8, "grid": true, "gridColor": "#eef1f6", "gridWidth": 0.8, "labelOverlap": false, "labelFlush": false}},
    "text": {"field": "t"}
   }},
  {"data": {"values": [{"d": "2023-12-25", "p": 28.62, "t": "24.77"}, {"d": "2024-01-26", "p": 28.62, "t": "24.80"}, {"d": "2024-02-25", "p": 28.62, "t": "24.52"}, {"d": "2024-03-22", "p": 28.62, "t": "24.74"}, {"d": "2024-04-08", "p": 28.62, "t": "−0.03 (−0.12%)"}]},
   "mark": {"type": "text", "fontSize": 4.1, "color": "#f23645", "align": "left", "baseline": "middle", "clip": false},
   "encoding": {
    "x": {"field": "d", "type": "temporal"},
    "y": {"field": "p", "type": "quantitative", "axis": {"orient": "right", "title": null, "values": [19, 19.5, 20, 20.5, 21, 21.5, 22, 22.5, 23, 23.5, 24, 24.5, 25, 25.5, 26, 26.5, 27, 27.5, 28, 28.5], "labelExpr": "(datum.value > 28.2 || datum.value == 24.5) ? '' : format(datum.value, '.2f')", "labelFontSize": 4.5, "labelColor": "#50535e", "labelAlign": "left", "labelPadding": 3, "ticks": false, "domainColor": "#d1d4dc", "domainWidth": 0.8, "grid": true, "gridColor": "#eef1f6", "gridWidth": 0.8, "labelOverlap": false, "labelFlush": false}},
    "text": {"field": "t"}
   }},
  {"data": {"values": [{"d": "2024-09-03", "p": 19.06}]},
   "mark": {"type": "point", "shape": "circle", "filled": true, "fill": "#ffffff", "stroke": "#9c27b0", "strokeWidth": 0.8, "size": 36, "opacity": 1, "clip": false},
   "encoding": {
    "x": {"field": "d", "type": "temporal"},
    "y": {"field": "p", "type": "quantitative", "axis": {"orient": "right", "title": null, "values": [19, 19.5, 20, 20.5, 21, 21.5, 22, 22.5, 23, 23.5, 24, 24.5, 25, 25.5, 26, 26.5, 27, 27.5, 28, 28.5], "labelExpr": "(datum.value > 28.2 || datum.value == 24.5) ? '' : format(datum.value, '.2f')", "labelFontSize": 4.5, "labelColor": "#50535e", "labelAlign": "left", "labelPadding": 3, "ticks": false, "domainColor": "#d1d4dc", "domainWidth": 0.8, "grid": true, "gridColor": "#eef1f6", "gridWidth": 0.8, "labelOverlap": false, "labelFlush": false}}
   }},
  {"data": {"values": [{"d": "2024-09-03", "p": 19.06, "t": "+"}]},
   "mark": {"type": "text", "fontSize": 4.5, "color": "#9c27b0", "align": "center", "baseline": "middle", "clip": false},
   "encoding": {
    "x": {"field": "d", "type": "temporal"},
    "y": {"field": "p", "type": "quantitative", "axis": {"orient": "right", "title": null, "values": [19, 19.5, 20, 20.5, 21, 21.5, 22, 22.5, 23, 23.5, 24, 24.5, 25, 25.5, 26, 26.5, 27, 27.5, 28, 28.5], "labelExpr": "(datum.value > 28.2 || datum.value == 24.5) ? '' : format(datum.value, '.2f')", "labelFontSize": 4.5, "labelColor": "#50535e", "labelAlign": "left", "labelPadding": 3, "ticks": false, "domainColor": "#d1d4dc", "domainWidth": 0.8, "grid": true, "gridColor": "#eef1f6", "gridWidth": 0.8, "labelOverlap": false, "labelFlush": false}},
    "text": {"field": "t"}
   }}
 ]}
],
"resolve": {"scale": {"y": "independent"}}
}
